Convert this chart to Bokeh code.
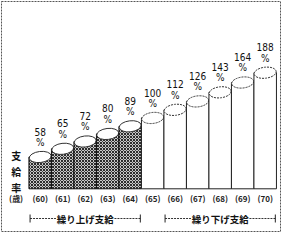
from bokeh.plotting import figure
from bokeh.models import Range1d, ColumnDataSource, LinearScale
from bokeh.core.properties import value
from bokeh.embed import file_html
from bokeh.resources import INLINE

# ---- data ----
AGES = ["60", "61", "62", "63", "64", "65", "66", "67", "68", "69", "70"]
RATES = [58, 65, 72, 80, 89, 100, 112, 126, 143, 164, 188]
N_EARLY = 5                      # 繰り上げ支給 bars (shaded)
UNIT_LABEL = "(歳)"
Y_TITLE = "支給率"
GROUP_LABELS = ["繰り上げ支給", "繰り下げ支給"]
GROUP_SPANS = [(0, 4), (6, 10)]  # index ranges of AGES

# ---- layout constants ----
W, H = 281, 232
MB = 1
FH = H - 2 * MB                   # frame height in px
BASE = 37.2                       # cylinder base on log axis
AGE_ROW = 197                     # pixel row (from frame top) of age labels
BRACKET_ROW = 217                 # pixel row of group brackets
TITLE_ROW = 170
TITLE_X = -1.07

JP = value("Noto Sans CJK JP")
NUM = value("Liberation Sans Narrow, DejaVu Sans Condensed, Noto Sans")

p = figure(width=W, height=H, output_backend="svg", toolbar_location=None,
           x_range=Range1d(-1.72, 10.68), y_range=Range1d(20.5, 508),
           y_axis_type="log", min_border=MB)
p.axis.visible = False
p.grid.visible = False
p.outline_line_color = "#555555"
p.outline_line_dash = "2 1"
p.outline_line_width = 1
p.background_fill_color = "white"
p.extra_y_ranges = {"px": Range1d(FH, 0)}
p.extra_y_scales = {"px": LinearScale()}

xs = list(range(len(AGES)))

# cylinders, drawn left to right so each overlaps its left neighbour
for i, (x, r) in enumerate(zip(xs, RATES)):
    early = i < N_EARLY
    src = ColumnDataSource(dict(x=[x], top=[r]))
    if early:
        p.vbar(x="x", top="top", bottom=BASE, width=1.0, source=src,
               fill_color="#c8c8c8", hatch_pattern="x", hatch_color="#1a1a1a",
               hatch_scale=3, hatch_weight=0.9, line_color="#111111", line_width=1)
    else:
        p.vbar(x="x", top="top", bottom=BASE, width=1.0, source=src,
               fill_color="white", line_color="#222222", line_width=1)
    p.ellipse(x="x", y="top", width=0.98, height=11, height_units="screen",
              angle=0.12, source=src, fill_color="white",
              line_color="#333333", line_width=1,
              line_dash="solid" if early else "2 1")

# value labels
lab = ColumnDataSource(dict(x=xs, y=RATES, t=[f"{r}\n%" for r in RATES]))
p.text(x="x", y="y", text="t", source=lab, text_font=NUM, text_font_size="10px",
       text_align="center", text_baseline="bottom", y_offset=-9,
       text_line_height=0.95, text_color="#111111")

# age labels
ages = ColumnDataSource(dict(x=[TITLE_X] + xs,
                             y=[AGE_ROW] * (len(AGES) + 1),
                             t=[UNIT_LABEL] + [f"({a})" for a in AGES]))
p.text(x="x", y="y", text="t", source=ages, y_range_name="px", text_font=JP,
       text_font_size="8px", text_font_style="bold", text_align="center",
       text_baseline="middle", text_color="#222222")

# y title (vertical)
p.text(x=[TITLE_X], y=[TITLE_ROW], text=["\n".join(Y_TITLE)], y_range_name="px",
       text_font=JP, text_font_size="10px", text_font_style="bold",
       text_align="center", text_baseline="middle", text_line_height=1.05,
       text_color="#111111")

# group brackets
GAP = 1.3
for lbl, (a, b) in zip(GROUP_LABELS, GROUP_SPANS):
    x0, x1 = xs[a] - 0.45, xs[b] + 0.45
    xc = (xs[a] + xs[b]) / 2
    p.segment(x0=[x0, xc + GAP], y0=[BRACKET_ROW] * 2, x1=[xc - GAP, x1],
              y1=[BRACKET_ROW] * 2, y_range_name="px", line_color="#333333",
              line_width=1, line_dash="2 1")
    p.segment(x0=[x0, x1], y0=[BRACKET_ROW - 4] * 2, x1=[x0, x1],
              y1=[BRACKET_ROW + 4] * 2, y_range_name="px", line_color="#222222",
              line_width=1)
    p.text(x=[xc], y=[BRACKET_ROW], text=[lbl], y_range_name="px", text_font=JP,
           text_font_size="9.5px", text_font_style="bold", text_align="center",
           text_baseline="middle", text_color="#111111")

open("out.html", "w").write(file_html(p, INLINE))
